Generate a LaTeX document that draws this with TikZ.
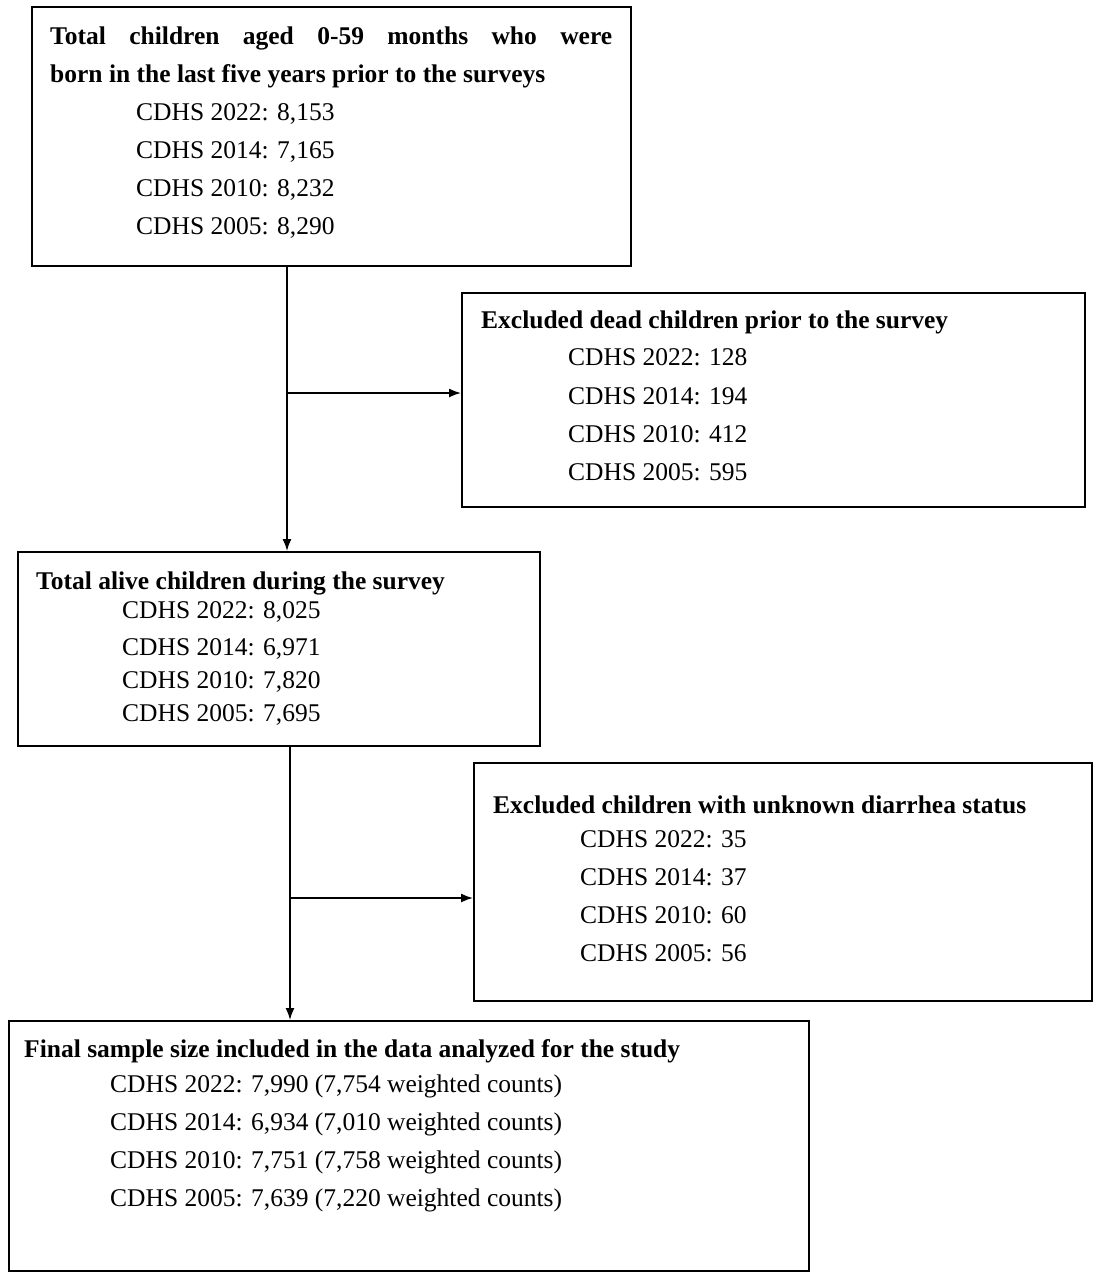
\documentclass[tikz,border=0pt]{standalone}
\usepackage{fontspec}
\setmainfont{Liberation Serif}
\begin{document}
\begin{tikzpicture}[x=1pt,y=-1pt,
 box/.style={draw,line width=1.6pt,anchor=north west,inner sep=0pt},
 t/.style={anchor=base west,inner sep=0pt,font=\fontsize{25.5}{30}\selectfont},
 h/.style={t,font=\fontsize{25.5}{30}\selectfont\bfseries},
 arr/.style={line width=1.6pt,-{Latex[length=12pt,width=9pt]}}]
\usetikzlibrary{arrows.meta}
\useasboundingbox (0,0) rectangle (1099,1280);
\node[box,minimum width=599pt,minimum height=259pt] (b1) at (31,6) {};
\node[box,minimum width=623pt,minimum height=214pt] (b2) at (461,292) {};
\node[box,minimum width=522pt,minimum height=194pt] (b3) at (17,551) {};
\node[box,minimum width=618pt,minimum height=238pt] (b4) at (473,762) {};
\node[box,minimum width=800pt,minimum height=250pt] (b5) at (8,1020) {};
\node[h] (h1a) at (50,44) {\hbox to 562pt{Total\hfill children\hfill aged\hfill 0-59\hfill months\hfill who\hfill were}};
\node[h] (h1b) at (50,82) {born in the last five years prior to the surveys};
\node[t] (n1a) at (136,120) {CDHS 2022: 8,153};
\node[t] (n1b) at (136,158) {CDHS 2014: 7,165};
\node[t] (n1c) at (136,196) {CDHS 2010: 8,232};
\node[t] (n1d) at (136,234) {CDHS 2005: 8,290};
\node[h] (h2) at (481,328) {Excluded dead children prior to the survey};
\node[t] (n2a) at (568,365) {CDHS 2022: 128};
\node[t] (n2b) at (568,404) {CDHS 2014: 194};
\node[t] (n2c) at (568,442) {CDHS 2010: 412};
\node[t] (n2d) at (568,480) {CDHS 2005: 595};
\node[h] (h3) at (36,589) {Total alive children during the survey};
\node[t] (n3a) at (122,618) {CDHS 2022: 8,025};
\node[t] (n3b) at (122,655) {CDHS 2014: 6,971};
\node[t] (n3c) at (122,688) {CDHS 2010: 7,820};
\node[t] (n3d) at (122,721) {CDHS 2005: 7,695};
\node[h] (h4) at (493,813) {Excluded children with unknown diarrhea status};
\node[t] (n4a) at (580,847) {CDHS 2022: 35};
\node[t] (n4b) at (580,885) {CDHS 2014: 37};
\node[t] (n4c) at (580,923) {CDHS 2010: 60};
\node[t] (n4d) at (580,961) {CDHS 2005: 56};
\node[h] (h5) at (24,1057) {Final sample size included in the data analyzed for the study};
\node[t] (n5a) at (110,1092) {CDHS 2022: 7,990 (7,754 weighted counts)};
\node[t] (n5b) at (110,1130) {CDHS 2014: 6,934 (7,010 weighted counts)};
\node[t] (n5c) at (110,1168) {CDHS 2010: 7,751 (7,758 weighted counts)};
\node[t] (n5d) at (110,1206) {CDHS 2005: 7,639 (7,220 weighted counts)};
\coordinate (j1) at (287,393);
\coordinate (j2) at (290,898);
\draw[arr] (b1.south west -| j1) -- (b3.north west -| j1);
\draw[arr] (j1) -- (j1 -| b2.west);
\draw[arr] (b3.south west -| j2) -- (b5.north west -| j2);
\draw[arr] (j2) -- (j2 -| b4.west);
\end{tikzpicture}
\end{document}
